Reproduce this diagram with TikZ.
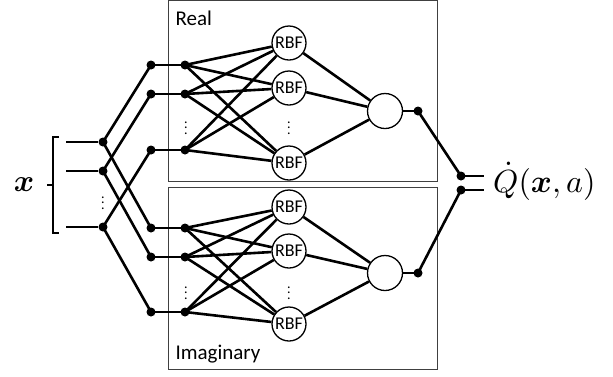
\documentclass[tikz,border=0pt]{standalone}
\usepackage{amsmath}
\usepackage{bm}
\usepackage{fontspec}
\setmainfont{Carlito}
\begin{document}
\begin{tikzpicture}[x=1pt,y=-1pt,
  dot/.style={circle,fill=black,inner sep=0pt,minimum size=9pt},
  rbf/.style={circle,draw,line width=1.3pt,inner sep=0pt,minimum size=34pt,font=\fontsize{18}{18}\selectfont},
  outc/.style={circle,draw,line width=1.3pt,inner sep=0pt,minimum size=35pt},
  wire/.style={line width=2.6pt},
  box/.style={draw=black!75,line width=1pt},
  vd/.style={inner sep=0pt}]
\useasboundingbox (0,0) rectangle (613,376);
% boxes
\draw[box] (168,0.5) rectangle (437,181);
\draw[box] (168,187) rectangle (437,369);
\node[anchor=west,font=\fontsize{21}{21}\selectfont] (lr) at (172,18) {Real};
\node[anchor=west,font=\fontsize{21}{21}\selectfont] (li) at (172,354) {Imaginary};
% input
\node (x) at (24,185) {\scalebox{3.1}{$\bm{x}$}};
\draw[line width=1.5pt] (59,137) -- (53,137) -- (53,233) -- (59,233);
\draw[line width=1.5pt] (53,185) -- (47,185);
\coordinate (s1) at (66,142);
\coordinate (s2) at (66,171);
\coordinate (s3) at (66,227);
\node[dot] (in1) at (103,142) {};
\node[dot] (in2) at (103,171) {};
\node[dot] (in3) at (103,227) {};
\node[vd] (vin) at (103,199) {\scalebox{1.4}{$\vdots$}};
\draw[wire] (s1) -- (in1);
\draw[wire] (s2) -- (in2);
\draw[wire] (s3) -- (in3);
% second layer
\node[dot] (r1) at (151,65) {};
\node[dot] (r2) at (151,94) {};
\node[dot] (r3) at (151,150) {};
\node[dot] (i1) at (151,228) {};
\node[dot] (i2) at (151,257) {};
\node[dot] (i3) at (151,312) {};
\node[dot] (rr1) at (185,65) {};
\node[dot] (rr2) at (185,94) {};
\node[dot] (rr3) at (185,150) {};
\node[dot] (ii1) at (185,228) {};
\node[dot] (ii2) at (185,257) {};
\node[dot] (ii3) at (185,312) {};
\draw[wire] (in1.center) -- (r1.center);
\draw[wire] (in1.center) -- (i1.center);
\draw[wire] (in2.center) -- (r2.center);
\draw[wire] (in2.center) -- (i2.center);
\draw[wire] (in3.center) -- (r3.center);
\draw[wire] (in3.center) -- (i3.center);
\foreach \k in {1,2,3}{
  \draw[wire] (r\k.center) -- (rr\k.center);
  \draw[wire] (i\k.center) -- (ii\k.center);
}
% RBF nodes
\node[rbf] (R1) at (289,43) {RBF};
\node[rbf] (R2) at (289,88) {RBF};
\node[rbf] (R3) at (289,163) {RBF};
\node[rbf] (I1) at (289,207) {RBF};
\node[rbf] (I2) at (289,251) {RBF};
\node[rbf] (I3) at (289,324) {RBF};
\node[vd] (vr1) at (186,124) {\scalebox{1.4}{$\vdots$}};
\node[vd] (vr2) at (289,124) {\scalebox{1.4}{$\vdots$}};
\node[vd] (vi1) at (186,289) {\scalebox{1.4}{$\vdots$}};
\node[vd] (vi2) at (289,289) {\scalebox{1.4}{$\vdots$}};
\foreach \a in {1,2,3}{
  \foreach \b in {1,2,3}{
    \draw[wire] (rr\a.center) -- (R\b);
    \draw[wire] (ii\a.center) -- (I\b);
  }
}
% output circles
\node[outc] (OR) at (385,111) {};
\node[outc] (OI) at (385,273) {};
\foreach \b in {1,2,3}{
  \draw[wire] (R\b) -- (OR);
  \draw[wire] (I\b) -- (OI);
}
\node[dot] (ro) at (418,111) {};
\node[dot] (io) at (418,273) {};
\draw[wire] (OR) -- (ro.center);
\draw[wire] (OI) -- (io.center);
\node[dot] (m1) at (461,176) {};
\node[dot] (m2) at (461,190) {};
\draw[wire] (ro.center) -- (m1.center);
\draw[wire] (io.center) -- (m2.center);
\coordinate (e1) at (484,176);
\coordinate (e2) at (484,190);
\draw[wire] (m1.center) -- (e1);
\draw[wire] (m2.center) -- (e2);
\node[anchor=base west,inner sep=0pt] (q) at (493,192) {\scalebox{3.2}{$\dot{Q}(\bm{x},a)$}};
\end{tikzpicture}
\end{document}
